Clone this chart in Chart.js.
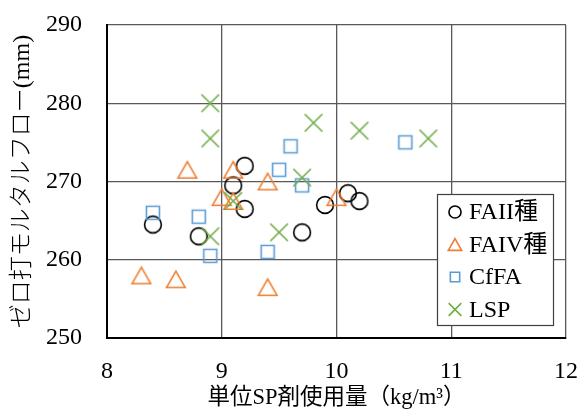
<!DOCTYPE html>
<html>
<head>
<meta charset="utf-8">
<script src="https://cdn.jsdelivr.net/npm/chart.js@4/dist/chart.umd.min.js"></script>
<style>
  html, body { margin: 0; padding: 0; background: #fff; }
  canvas { display: block; }
</style>
</head>
<body>
<canvas id="c" width="583" height="412"></canvas>
<script>
// Series: unit superplasticizer dosage (kg/m3) vs. zero-blow mortar flow (mm)
const seriesNames = ['FAII種', 'FAIV種', 'CfFA', 'LSP'];

const faiiX = [8.4, 8.8, 9.1, 9.2, 9.2, 9.7, 9.9, 10.1, 10.2];
const faiiY = [264.5, 263, 269.5, 272, 266.5, 263.5, 267, 268.5, 267.5];

const faivX = [8.3, 8.6, 8.7, 9.0, 9.1, 9.1, 9.4, 9.4, 10.0];
const faivY = [258, 257.5, 271.5, 268, 271.5, 267.5, 270, 256.5, 268];

const cffaX = [8.4, 8.8, 8.9, 9.4, 9.5, 9.6, 9.7, 10.6];
const cffaY = [266, 265.5, 260.5, 261, 271.5, 274.5, 269.5, 275];

const lspX = [8.9, 8.9, 8.9, 9.1, 9.5, 9.7, 9.8, 10.2, 10.8];
const lspY = [280, 275.5, 263, 267.5, 263.5, 270.5, 277.5, 276.5, 275.5];

const xTicks = [8, 9, 10, 11, 12];
const yTicks = [250, 260, 270, 280, 290];

const xTitle = '単位SP剤使用量（kg/m³）';
const yTitle = 'ゼロ打モルタルフロー(mm)';

const colors = ['#000000', '#ED7D31', '#5B9BD5', '#70AD47'];
const shapes = ['circle', 'triangle', 'square', 'cross'];

const serif = '"Liberation Serif", "Times New Roman", "Noto Sans CJK JP", serif';

// Marker outline drawn around (cx, cy); s scales the marker
function traceMarker(ctx, shape, cx, cy, s) {
  ctx.beginPath();
  if (shape === 'circle') {
    ctx.arc(cx, cy, 8.4 * s, 0, Math.PI * 2);
  } else if (shape === 'triangle') {
    const hw = 9.3 * s, hh = 8.2 * s;
    ctx.moveTo(cx, cy - hh);
    ctx.lineTo(cx + hw, cy + hh);
    ctx.lineTo(cx - hw, cy + hh);
    ctx.closePath();
  } else if (shape === 'square') {
    const h = 6.5 * s;
    ctx.rect(cx - h, cy - h, 2 * h, 2 * h);
  } else {
    const h = 8.8 * s;
    ctx.moveTo(cx - h, cy - h); ctx.lineTo(cx + h, cy + h);
    ctx.moveTo(cx + h, cy - h); ctx.lineTo(cx - h, cy + h);
  }
}

function drawMarker(ctx, shape, color, cx, cy, s) {
  ctx.save();
  traceMarker(ctx, shape, cx, cy, s);
  ctx.lineWidth = 1.6;
  ctx.strokeStyle = color;
  ctx.stroke();
  ctx.restore();
}

function markerImage(shape, color) {
  const cv = document.createElement('canvas');
  cv.width = 26; cv.height = 26;
  drawMarker(cv.getContext('2d'), shape, color, 13, 13, 1);
  return cv;
}

function pts(xs, ys) { return xs.map((x, i) => ({ x: x, y: ys[i] })); }

const seriesData = [pts(faiiX, faiiY), pts(faivX, faivY), pts(cffaX, cffaY), pts(lspX, lspY)];

const datasets = seriesNames.map((name, i) => ({
  label: name,
  data: seriesData[i],
  pointStyle: markerImage(shapes[i], colors[i]),
  pointRadius: 10,
  borderColor: colors[i],
  backgroundColor: colors[i],
  showLine: false,
  order: 4 - i
}));

// Boxed legend inside the plot area
const boxLegend = {
  id: 'boxLegend',
  afterDraw(chart) {
    const ctx = chart.ctx;
    const x0 = 437.5, y0 = 194.5, w = 116, h = 131;
    ctx.save();
    ctx.fillStyle = '#ffffff';
    ctx.fillRect(x0, y0, w, h);
    ctx.strokeStyle = '#404040';
    ctx.lineWidth = 1.2;
    ctx.strokeRect(x0, y0, w, h);
    ctx.font = '24px ' + serif;
    ctx.fillStyle = '#000';
    ctx.textBaseline = 'middle';
    ctx.textAlign = 'left';
    const rows = [212, 244.5, 277, 309.5];
    seriesNames.forEach((name, i) => {
      drawMarker(ctx, shapes[i], colors[i], 455, rows[i], 0.72);
      ctx.fillText(name, 469, rows[i] + 1);
    });
    ctx.restore();
  }
};

// Keep the plot frame fixed: no extra edge room for the outer tick labels
function noEdgePadding(s) {
  s.paddingTop = 0; s.paddingBottom = 0;
  s.paddingLeft = 0; s.paddingRight = 0;
}

new Chart(document.getElementById('c'), {
  type: 'scatter',
  data: { datasets: datasets },
  options: {
    responsive: false,
    animation: false,
    events: [],
    layout: { padding: { top: 25, right: 17, left: 0, bottom: 0 } },
    plugins: { legend: { display: false }, tooltip: { enabled: false } },
    scales: {
      x: {
        type: 'linear',
        min: xTicks[0],
        max: xTicks[xTicks.length - 1],
        afterBuildTicks: s => { s.ticks = xTicks.map(v => ({ value: v })); },
        afterFit: s => { s.height = 74; noEdgePadding(s); },
        ticks: { color: '#000', font: { family: serif, size: 24 }, padding: 19 },
        grid: { color: '#595959', lineWidth: 1.3, drawTicks: false },
        border: { color: '#000', width: 2 },
        title: {
          display: true, text: xTitle, color: '#000',
          font: { family: serif, size: 22.5 },
          padding: { top: 0, bottom: 0 }
        }
      },
      y: {
        type: 'linear',
        min: yTicks[0],
        max: yTicks[yTicks.length - 1],
        afterBuildTicks: s => { s.ticks = yTicks.map(v => ({ value: v })); },
        afterFit: s => { s.width = 107; noEdgePadding(s); },
        ticks: { color: '#000', font: { family: serif, size: 24 }, padding: 25 },
        grid: { color: '#595959', lineWidth: 1.3, drawTicks: false },
        border: { color: '#000', width: 2 },
        title: {
          display: true, text: yTitle, color: '#000',
          font: { family: serif, size: 24, weight: '300' },
          padding: { top: 8, bottom: 0 }
        }
      }
    }
  },
  plugins: [boxLegend]
});
</script>
</body>
</html>
